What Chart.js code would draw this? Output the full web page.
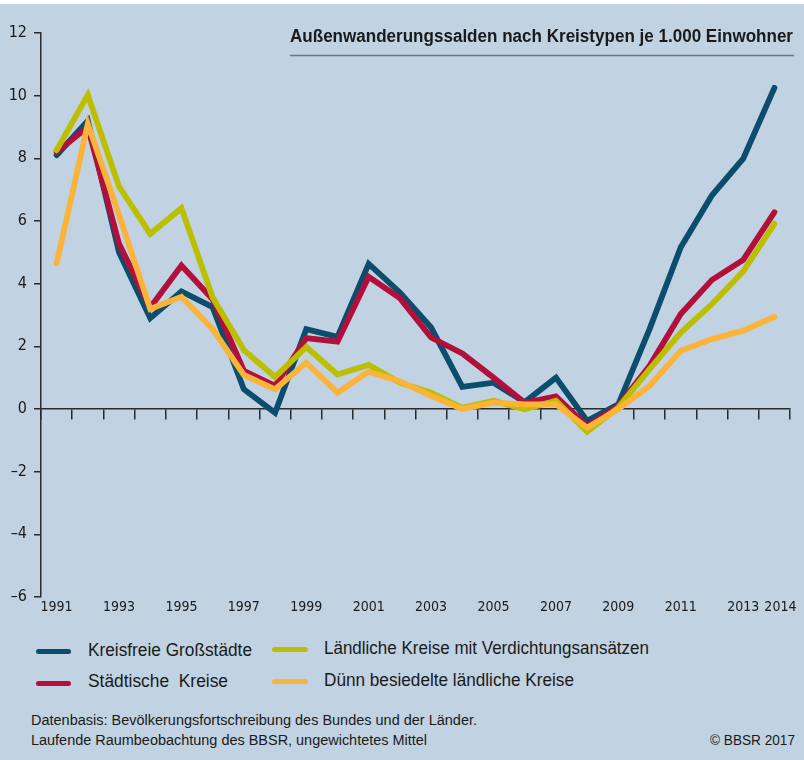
<!DOCTYPE html>
<html><head><meta charset="utf-8">
<script src="https://cdn.jsdelivr.net/npm/chart.js@4.4.0/dist/chart.umd.min.js"></script>
<style>
html,body{margin:0;padding:0;}
body{width:804px;height:760px;background:#c1d2e2;position:relative;overflow:hidden;font-family:'Liberation Sans',Arial,sans-serif;color:#1a1a1a;}
#topband{position:absolute;left:0;top:0;width:804px;height:4px;background:#fff;z-index:2;}
#wrap{position:absolute;left:0;top:0;width:804px;height:625px;}
.t{position:absolute;white-space:pre;transform-origin:0 50%;line-height:1;}
.sw{position:absolute;height:5px;border-radius:3px;}
</style></head><body>
<div id="topband"></div>
<div id="wrap"><canvas id="c"></canvas></div>

<div class="sw" style="left:36px;top:649px;width:35px;background:#0b4d6d"></div>
<div class="t" data-w="164" style="left:88px;top:642px;font-size:17.5px">Kreisfreie Großstädte</div>
<div class="sw" style="left:36px;top:680.5px;width:35px;background:#b30f3b"></div>
<div class="t" data-w="140" style="left:88px;top:673px;font-size:17.5px">Städtische  Kreise</div>
<div class="sw" style="left:272px;top:647px;width:36px;background:#bcbe00"></div>
<div class="t" data-w="325" style="left:324px;top:639.5px;font-size:17.5px">Ländliche Kreise mit Verdichtungsansätzen</div>
<div class="sw" style="left:272px;top:678.5px;width:36px;background:#fbb43a"></div>
<div class="t" data-w="250" style="left:324px;top:671.5px;font-size:17.5px">Dünn besiedelte ländliche Kreise</div>

<div class="t" data-w="446" style="left:31px;top:713px;font-size:14px">Datenbasis: Bevölkerungsfortschreibung des Bundes und der Länder.</div>
<div class="t" data-w="396" style="left:31px;top:733px;font-size:14px">Laufende Raumbeobachtung des BBSR, ungewichtetes Mittel</div>
<div class="t" data-w="85" style="left:710px;top:733px;font-size:14px">© BBSR 2017</div>

<script>
const years = ['1991','1992','1993','1994','1995','1996','1997','1998','1999','2000','2001','2002','2003','2004','2005','2006','2007','2008','2009','2010','2011','2012','2013','2014'];
const tickLabels = ['1991','1993','1995','1997','1999','2001','2003','2005','2007','2009','2011','2013','2014'];
const seriesNames = ['Kreisfreie Großstädte','Städtische Kreise','Ländliche Kreise mit Verdichtungsansätzen','Dünn besiedelte ländliche Kreise'];
const kreisfreie = [8.1, 9.2, 5.0, 2.9, 3.75, 3.25, 0.63, -0.12, 2.55, 2.3, 4.63, 3.72, 2.6, 0.71, 0.84, 0.22, 1.0, -0.38, 0.15, 2.55, 5.16, 6.82, 7.99, 10.25];
const staedtische = [8.2, 9.0, 5.27, 3.24, 4.58, 3.5, 1.22, 0.74, 2.26, 2.15, 4.22, 3.54, 2.28, 1.77, 1.0, 0.2, 0.4, -0.55, 0.1, 1.38, 3.03, 4.12, 4.76, 6.28];
const laendlich = [8.26, 10.02, 7.1, 5.59, 6.41, 3.56, 1.88, 1.02, 1.98, 1.1, 1.41, 0.84, 0.52, 0.04, 0.26, -0.01, 0.26, -0.72, 0.05, 1.27, 2.44, 3.35, 4.39, 5.91];
const duenn = [4.65, 9.1, 6.2, 3.19, 3.58, 2.55, 1.09, 0.63, 1.48, 0.52, 1.19, 0.88, 0.42, 0.0, 0.2, 0.15, 0.15, -0.6, 0.0, 0.74, 1.86, 2.23, 2.5, 2.94];
const colors = ['#0b4d6d','#b30f3b','#bcbe00','#fbb43a'];
const titleText = 'Außenwanderungssalden nach Kreistypen je 1.000 Einwohner';

const axisColor = '#2a2a2a';
const textColor = '#1a1a1a';
const tickFont = '"DejaVu Sans Condensed", "Liberation Sans", Arial, sans-serif';

const titlePlugin = {
  id: 'innerTitle',
  afterDraw(chart) {
    const ctx = chart.ctx;
    ctx.save();
    ctx.font = 'bold 18px "Liberation Sans"';
    const w = ctx.measureText(titleText).width;
    ctx.translate(793, 42);
    ctx.scale(503 / w, 1);
    ctx.textAlign = 'right';
    ctx.textBaseline = 'alphabetic';
    ctx.fillStyle = textColor;
    ctx.fillText(titleText, 0, 0);
    ctx.restore();
    ctx.save();
    ctx.strokeStyle = '#6e757c';
    ctx.lineWidth = 1.5;
    ctx.beginPath();
    ctx.moveTo(290, 55.5);
    ctx.lineTo(794, 55.5);
    ctx.stroke();
    ctx.restore();
  }
};

function ds(label, data, color, order) {
  return {label, data, borderColor: color, backgroundColor: color, borderWidth: 5.8,
    pointRadius: 0, pointHoverRadius: 0, tension: 0, fill: false, order,
    borderJoinStyle: 'miter', borderCapStyle: 'round', xAxisID: 'x', yAxisID: 'y'};
}

new Chart(document.getElementById('c'), {
  type: 'line',
  data: {
    labels: years,
    datasets: [
      ds(seriesNames[0], kreisfreie, colors[0], 4),
      ds(seriesNames[1], staedtische, colors[1], 3),
      ds(seriesNames[2], laendlich, colors[2], 2),
      ds(seriesNames[3], duenn, colors[3], 1)
    ]
  },
  options: {
    responsive: true,
    maintainAspectRatio: false,
    animation: false,
    events: [],
    layout: {padding: {left: 0, right: 14, top: 33, bottom: 0}},
    plugins: {legend: {display: false}, title: {display: false}, tooltip: {enabled: false}},
    scales: {
      x: {
        type: 'category', position: 'bottom', offset: true,
        grid: {display: false, drawTicks: false},
        border: {display: false},
        ticks: {
          autoSkip: false, maxRotation: 0, minRotation: 0, padding: 2, color: textColor,
          font: {family: tickFont, size: 14},
          callback(v, i) {
            const l = this.getLabelForValue(v);
            if (!tickLabels.includes(l)) return '';
            return i === years.length - 1 ? '   ' + l : l;
          }
        },
        afterFit(s) { s.height = 28; }
      },
      x0: {
        type: 'category', position: {y: 0}, offset: true,
        grid: {display: true, offset: true, drawOnChartArea: false, drawTicks: true, tickLength: 10, color: axisColor, lineWidth: 1.5},
        border: {display: true, color: axisColor, width: 1.5},
        ticks: {display: false}
      },
      y: {
        type: 'linear', position: 'left', min: -6, max: 12,
        ticks: {
          stepSize: 2, padding: 7, color: textColor,
          font: {family: tickFont, size: 16},
          callback: v => v < 0 ? '–' + Math.abs(v) : String(v)
        },
        grid: {display: true, drawOnChartArea: false, drawTicks: true, tickLength: 7, color: axisColor, lineWidth: 1.5},
        border: {display: true, color: axisColor, width: 1.5},
        afterFit(s) { s.width = 41; }
      }
    }
  },
  plugins: [titlePlugin]
});

document.querySelectorAll('.t').forEach(el => {
  const target = parseFloat(el.dataset.w);
  const w = el.getBoundingClientRect().width;
  if (w > 0) el.style.transform = 'scaleX(' + (target / w) + ')';
});
</script>
</body></html>
